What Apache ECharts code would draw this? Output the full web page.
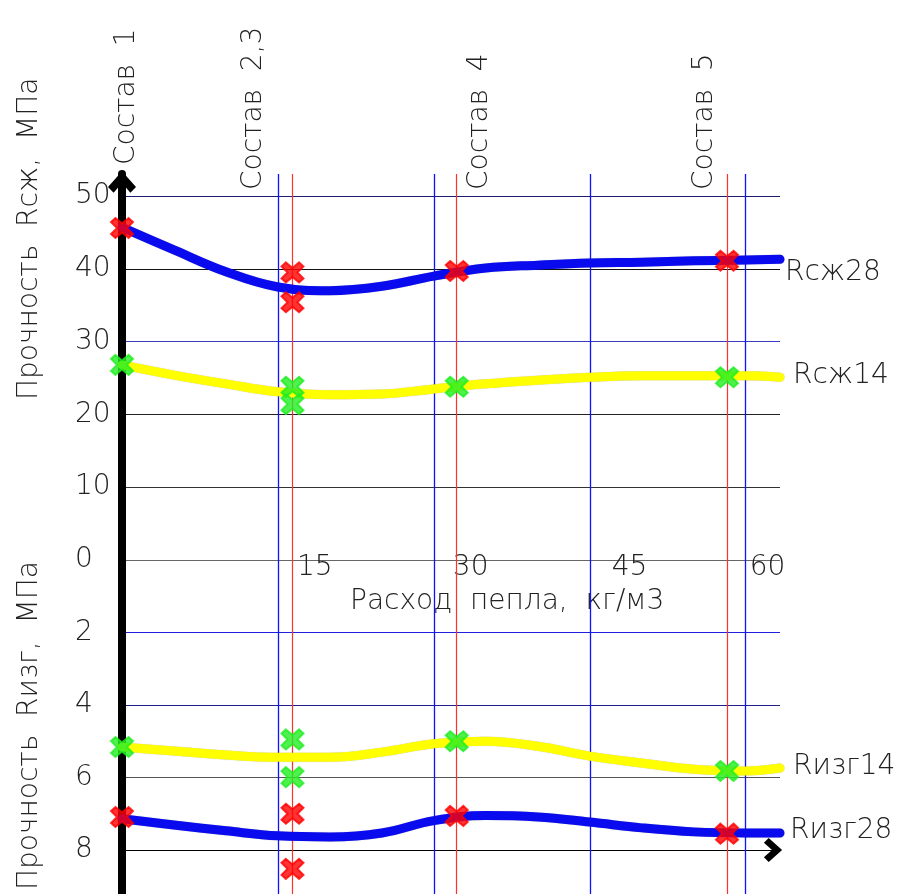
<!DOCTYPE html>
<html><head><meta charset="utf-8">
<script src="https://cdn.jsdelivr.net/npm/echarts@6/dist/echarts.min.js"></script>
<style>html,body{margin:0;padding:0;background:#fff}#c{width:899px;height:894px}</style>
</head><body><div id="c"></div>
<script>
// ---- data ----
const curveX = [0, 5, 10, 15, 20, 25, 30, 35, 40, 45, 50, 55, 60, 63.3];
const rsz28 = [45.7, 42.6, 39.6, 37.5, 37.0, 37.6, 39.0, 40.1, 40.5, 40.8, 40.9, 41.1, 41.2, 41.3];
const rsz14 = [26.8, 25.4, 24.2, 23.1, 22.7, 22.8, 23.5, 24.2, 24.7, 25.1, 25.3, 25.3, 25.3, 25.1];
const rizg14 = [5.16, 5.27, 5.38, 5.44, 5.44, 5.30, 5.07, 5.0, 5.14, 5.41, 5.60, 5.77, 5.82, 5.74];
const rizg28 = [7.14, 7.31, 7.47, 7.61, 7.64, 7.53, 7.19, 7.05, 7.09, 7.23, 7.39, 7.50, 7.53, 7.53];
const pointX = [0, 16.4, 16.4, 32.2, 58.2];
const rsz28Pts = [45.6, 39.5, 35.4, 39.7, 41.1];
const rsz14Pts = [26.8, 23.8, 21.4, 23.8, 25.1];
const rizg14Pts = [5.16, 4.95, 5.99, 5.0, 5.82];
const rizg28Pts = [7.09, 7.0, 8.52, 7.06, 7.55];
const compositionX = [16.4, 32.2, 58.2];
const compositionNames = ['Состав  1', 'Состав  2,3', 'Состав  4', 'Состав  5'];
const gridX = [15, 30, 45, 60];
const xTickLabels = ['15', '30', '45', '60'];
const curveNames = ['Rсж28', 'Rсж14', 'Rизг14', 'Rизг28'];
const upperColors = ['#666666', '#333333', '#222222', '#3c3cc0', '#111111', '#1c1c70'];
const lowerColors = ['#666666', '#2020e0', '#20208a', '#555555', '#111111'];

const FONT = 'DejaVu Sans';
const TXT = '#222';
const chevron = 'path://M50,0 L100,56 L80,76 L50,42 L20,76 L0,56 Z';
const xMark = 'path://M4,0 L10,5.5 L16,0 L20,4 L14.5,10 L20,16 L16,20 L10,14.5 L4,20 L0,16 L5.5,10 L0,4 Z';

const zip = (xs, ys) => xs.map((x, i) => [x, ys[i]]);

const chart = echarts.init(document.getElementById('c'), null, {renderer: 'canvas'});

function curve(name, data, color, xi) {
  return {
    type: 'line', name, xAxisIndex: xi, yAxisIndex: xi, data: zip(curveX, data),
    smooth: 0.4, showSymbol: false, symbol: 'none', z: 5, silent: true,
    lineStyle: {color, width: 9, cap: 'round', join: 'round', shadowColor: 'rgba(0,0,0,0.25)', shadowBlur: 1}
  };
}
function marks(name, data, color, xi) {
  return {
    type: 'scatter', name, xAxisIndex: xi, yAxisIndex: xi, data: zip(pointX, data),
    symbol: xMark, symbolSize: [22, 20], clip: false, z: 8, silent: true,
    itemStyle: {color, borderColor: color, borderWidth: 2}
  };
}

const xLabelPad = {'15': 19, '30': 19, '45': 22, '60': 4};

const option = {
  animation: false,
  backgroundColor: '#fff',
  grid: [
    {left: 122, width: 658, top: 196, height: 364},
    {left: 122, width: 658, top: 560, height: 290},
    {left: 122, width: 658, top: 174, height: 720}
  ],
  xAxis: [
    {gridIndex: 0, type: 'value', min: 0, max: 63.3, interval: 15,
     axisLine: {show: false, onZero: false}, axisTick: {show: false}, splitLine: {show: false},
     axisLabel: {show: true, margin: 8, showMinLabel: false, showMaxLabel: false,
       align: 'left', verticalAlign: 'middle',
       formatter: v => xTickLabels.includes(String(v)) ? '{p' + v + '|' + v + '}' : '',
       rich: Object.fromEntries(Object.entries(xLabelPad).map(([k, p]) => ['p' + k, {padding: [0, 0, 0, p], fontSize: 28, fontFamily: FONT, color: TXT, fontWeight: 200}]))
     }},
    {gridIndex: 1, type: 'value', min: 0, max: 63.3, interval: 15, position: 'bottom',
     axisLine: {show: true, onZero: false, lineStyle: {color: '#000', width: 1}, symbol: ['none', chevron], symbolSize: [24, 24], symbolOffset: [0, -7]},
     axisTick: {show: false}, axisLabel: {show: false}, splitLine: {show: false}},
    {gridIndex: 2, type: 'value', min: 0, max: 63.3, show: false}
  ],
  yAxis: [
    {gridIndex: 0, type: 'value', min: 0, max: 50, interval: 10,
     axisLine: {show: false}, axisTick: {show: false},
     splitLine: {show: true, lineStyle: {color: upperColors, width: 1.2}},
     axisLabel: {margin: 47, align: 'left', verticalAlign: 'middle', padding: [0, 0, 8, 0], fontSize: 28, fontFamily: FONT, color: TXT, fontWeight: 200}},
    {gridIndex: 1, type: 'value', min: 0, max: 8, interval: 2, inverse: true,
     axisLine: {show: false}, axisTick: {show: false},
     splitLine: {show: true, lineStyle: {color: lowerColors, width: 1.2}},
     axisLabel: {margin: 47, align: 'left', verticalAlign: 'middle', padding: [0, 0, 6, 0], showMinLabel: false, fontSize: 28, fontFamily: FONT, color: TXT, fontWeight: 200}},
    {gridIndex: 2, type: 'value', min: 0, max: 1,
     axisLine: {show: true, onZero: false, lineStyle: {color: '#000', width: 8}, symbol: ['none', chevron], symbolSize: [28, 22], symbolOffset: [0, -8]},
     axisTick: {show: false}, axisLabel: {show: false}, splitLine: {show: false}}
  ],
  series: [
    {type: 'line', xAxisIndex: 2, yAxisIndex: 2, data: [], silent: true, z: 1,
     markLine: {silent: true, symbol: ['none', 'none'], label: {show: false}, animation: false,
       data: gridX.map(v => ({xAxis: v, lineStyle: {color: '#1010ff', width: 1.3, type: 'solid'}}))
         .concat(compositionX.map(v => ({xAxis: v, lineStyle: {color: '#ff3030', width: 1.2, type: 'solid'}})))}},
    curve('Rсж28', rsz28, '#0a0aee', 0),
    curve('Rсж14', rsz14, '#ffff00', 0),
    curve('Rизг14', rizg14, '#ffff00', 1),
    curve('Rизг28', rizg28, '#0a0aee', 1),
    marks('Rсж28 точки', rsz28Pts, '#ff0000', 0),
    marks('Rсж14 точки', rsz14Pts, '#22ee22', 0),
    marks('Rизг14 точки', rizg14Pts, '#22ee22', 1),
    marks('Rизг28 точки', rizg28Pts, '#ff0000', 1)
  ],
  graphic: []
};
chart.setOption(option);

const ts = {fontSize: 28, fontFamily: FONT, fill: TXT, fontWeight: 200};
const rot = (text, x, y) => ({type: 'text', x, y, rotation: Math.PI / 2, silent: true,
  style: Object.assign({text, align: 'left', verticalAlign: 'middle'}, ts)});
const flat = (text, x, y) => ({type: 'text', x, y, silent: true,
  style: Object.assign({text, align: 'left', verticalAlign: 'middle'}, ts)});

const graphics = [
  rot('Прочность  Rсж,  МПа', 30, 400),
  rot('Прочность  Rизг,  МПа', 30, 890),
  rot(compositionNames[0], 127, 165),
  rot(compositionNames[1], 254, 190),
  rot(compositionNames[2], 480, 190),
  rot(compositionNames[3], 705, 190),
  flat('Расход  пепла,  кг/м3', 350, 602),
  flat(curveNames[0], 785, 273),
  flat(curveNames[1], 793, 376),
  flat(curveNames[2], 793, 767),
  flat(curveNames[3], 790, 831)
];
chart.setOption({graphic: graphics});
</script></body></html>
